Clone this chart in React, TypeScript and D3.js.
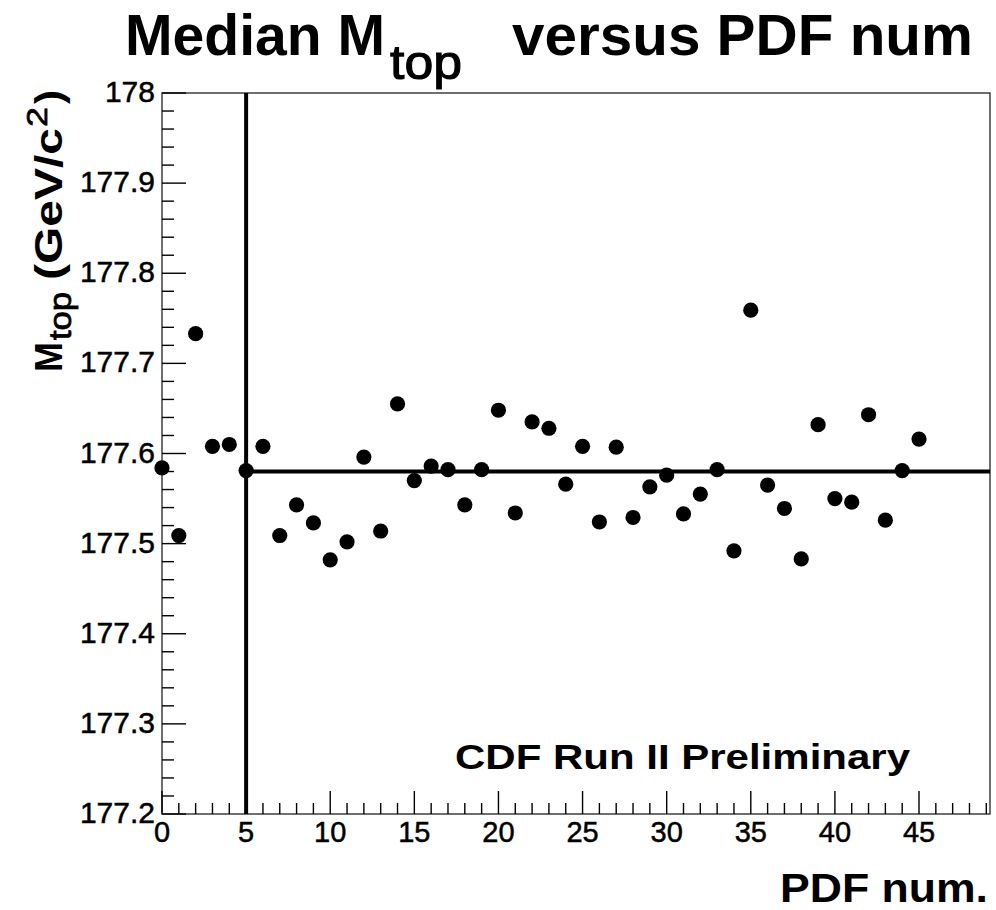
import React from "react";
import * as d3 from "d3";

const pdfNum: number[] = Array.from({ length: 46 }, (_, i) => i);
const medianMtop: number[] = [
  177.584, 177.509, 177.733, 177.608, 177.610, 177.581, 177.608, 177.509,
  177.543, 177.523, 177.482, 177.502, 177.596, 177.514, 177.655, 177.570,
  177.586, 177.582, 177.543, 177.582, 177.648, 177.534, 177.635, 177.628,
  177.566, 177.608, 177.524, 177.607, 177.529, 177.563, 177.576, 177.533,
  177.555, 177.582, 177.492, 177.759, 177.565, 177.539, 177.483, 177.632,
  177.550, 177.546, 177.643, 177.526, 177.581, 177.616,
];
const xTicks: number[] = [0, 5, 10, 15, 20, 25, 30, 35, 40, 45];
const yTicks: number[] = [177.2, 177.3, 177.4, 177.5, 177.6, 177.7, 177.8, 177.9, 178];
const yTickLabels: string[] = ["177.2", "177.3", "177.4", "177.5", "177.6", "177.7", "177.8", "177.9", "178"];
const refPdf = 5;
const refMedian = 177.58;

export default function App() {
  const W = 996, H = 910;
  const L = 162, R = 990, T = 93, B = 814;
  const x = d3.scaleLinear().domain([0, 49.22]).range([L, R]);
  const y = d3.scaleLinear().domain([177.2, 178]).range([B, T]);
  const font = "'Liberation Sans', Arial, Helvetica, sans-serif";
  const minorX = d3.range(0, 50, 1).filter((v) => v % 5 !== 0);
  const minorY = d3.range(0, 41).map((i) => 177.2 + i * 0.02).filter((_, i) => i % 5 !== 0);

  return (
    <svg width={W} height={H} style={{ position: "absolute", left: 0, top: 0, background: "#fff" }}>
      <rect x={0} y={0} width={W} height={H} fill="#fff" />
      {/* frame */}
      <rect x={L} y={T} width={R - L} height={B - T} fill="none" stroke="#222" strokeWidth={1.3} />
      {/* x ticks */}
      {xTicks.map((t) => (
        <line key={"xt" + t} x1={x(t)} x2={x(t)} y1={B} y2={B - 23} stroke="#000" strokeWidth={1.4} />
      ))}
      {minorX.map((t) => (
        <line key={"xm" + t} x1={x(t)} x2={x(t)} y1={B} y2={B - 11} stroke="#000" strokeWidth={1.4} />
      ))}
      {xTicks.map((t) => (
        <text key={"xl" + t} x={x(t)} y={B + 28} fontFamily={font} fontSize={29} textAnchor="middle" fill="#000" stroke="#000" strokeWidth={0.5}>
          {t}
        </text>
      ))}
      {/* y ticks */}
      {yTicks.map((t) => (
        <line key={"yt" + t} x1={L} x2={L + 24} y1={y(t)} y2={y(t)} stroke="#000" strokeWidth={1.4} />
      ))}
      {minorY.map((t, i) => (
        <line key={"ym" + i} x1={L} x2={L + 12} y1={y(t)} y2={y(t)} stroke="#000" strokeWidth={1.4} />
      ))}
      {yTicks.map((t, i) => (
        <text key={"yl" + t} x={L - 7} y={y(t) + 9} fontFamily={font} fontSize={30} textAnchor="end" fill="#000" stroke="#000" strokeWidth={0.5}>
          {yTickLabels[i]}
        </text>
      ))}
      {/* reference lines */}
      <line x1={x(refPdf)} x2={x(refPdf)} y1={T} y2={B} stroke="#000" strokeWidth={4} />
      <line x1={x(refPdf)} x2={R} y1={y(refMedian)} y2={y(refMedian)} stroke="#000" strokeWidth={4} />
      {/* points */}
      {pdfNum.map((p, i) => (
        <circle key={"pt" + p} cx={x(p)} cy={y(medianMtop[i])} r={7.6} fill="#000" />
      ))}
      {/* texts */}
      <text x={455} y={769} fontFamily={font} fontSize={35} fontWeight="bold" fill="#000" textLength={455} lengthAdjust="spacingAndGlyphs">
        CDF Run II Preliminary
      </text>
      {/* title */}
      <text x={125} y={55} fontFamily={font} fontSize={58} fontWeight="bold" fill="#000" textLength={260} lengthAdjust="spacingAndGlyphs">
        Median M
      </text>
      <text x={390} y={79} fontFamily={font} fontSize={48} fill="#000" stroke="#000" strokeWidth={1.1} textLength={72} lengthAdjust="spacingAndGlyphs">
        top
      </text>
      <text x={512} y={55} fontFamily={font} fontSize={58} fontWeight="bold" fill="#000" textLength={461} lengthAdjust="spacingAndGlyphs">
        versus PDF num
      </text>
      {/* x axis title */}
      <text x={780} y={902} fontFamily={font} fontSize={40} fontWeight="bold" fill="#000" textLength={208} lengthAdjust="spacingAndGlyphs">
        PDF num.
      </text>
      {/* y axis title */}
      <g transform="translate(62,0) rotate(-90)">
        <text x={-372} y={0} fontFamily={font} fontSize={38} fontWeight="bold" fill="#000" textLength={30} lengthAdjust="spacingAndGlyphs">
          M
        </text>
        <text x={-340} y={9} fontFamily={font} fontSize={32} fill="#000" stroke="#000" strokeWidth={0.8} textLength={48} lengthAdjust="spacingAndGlyphs">
          top
        </text>
        <text x={-280} y={0} fontFamily={font} fontSize={38} fontWeight="bold" fill="#000" textLength={152} lengthAdjust="spacingAndGlyphs">
          (GeV/c
        </text>
        <text x={-127} y={-15} fontFamily={font} fontSize={30} fill="#000" stroke="#000" strokeWidth={0.7} textLength={20} lengthAdjust="spacingAndGlyphs">
          2
        </text>
        <text x={-104} y={0} fontFamily={font} fontSize={38} fontWeight="bold" fill="#000" textLength={14} lengthAdjust="spacingAndGlyphs">
          )
        </text>
      </g>
    </svg>
  );
}
